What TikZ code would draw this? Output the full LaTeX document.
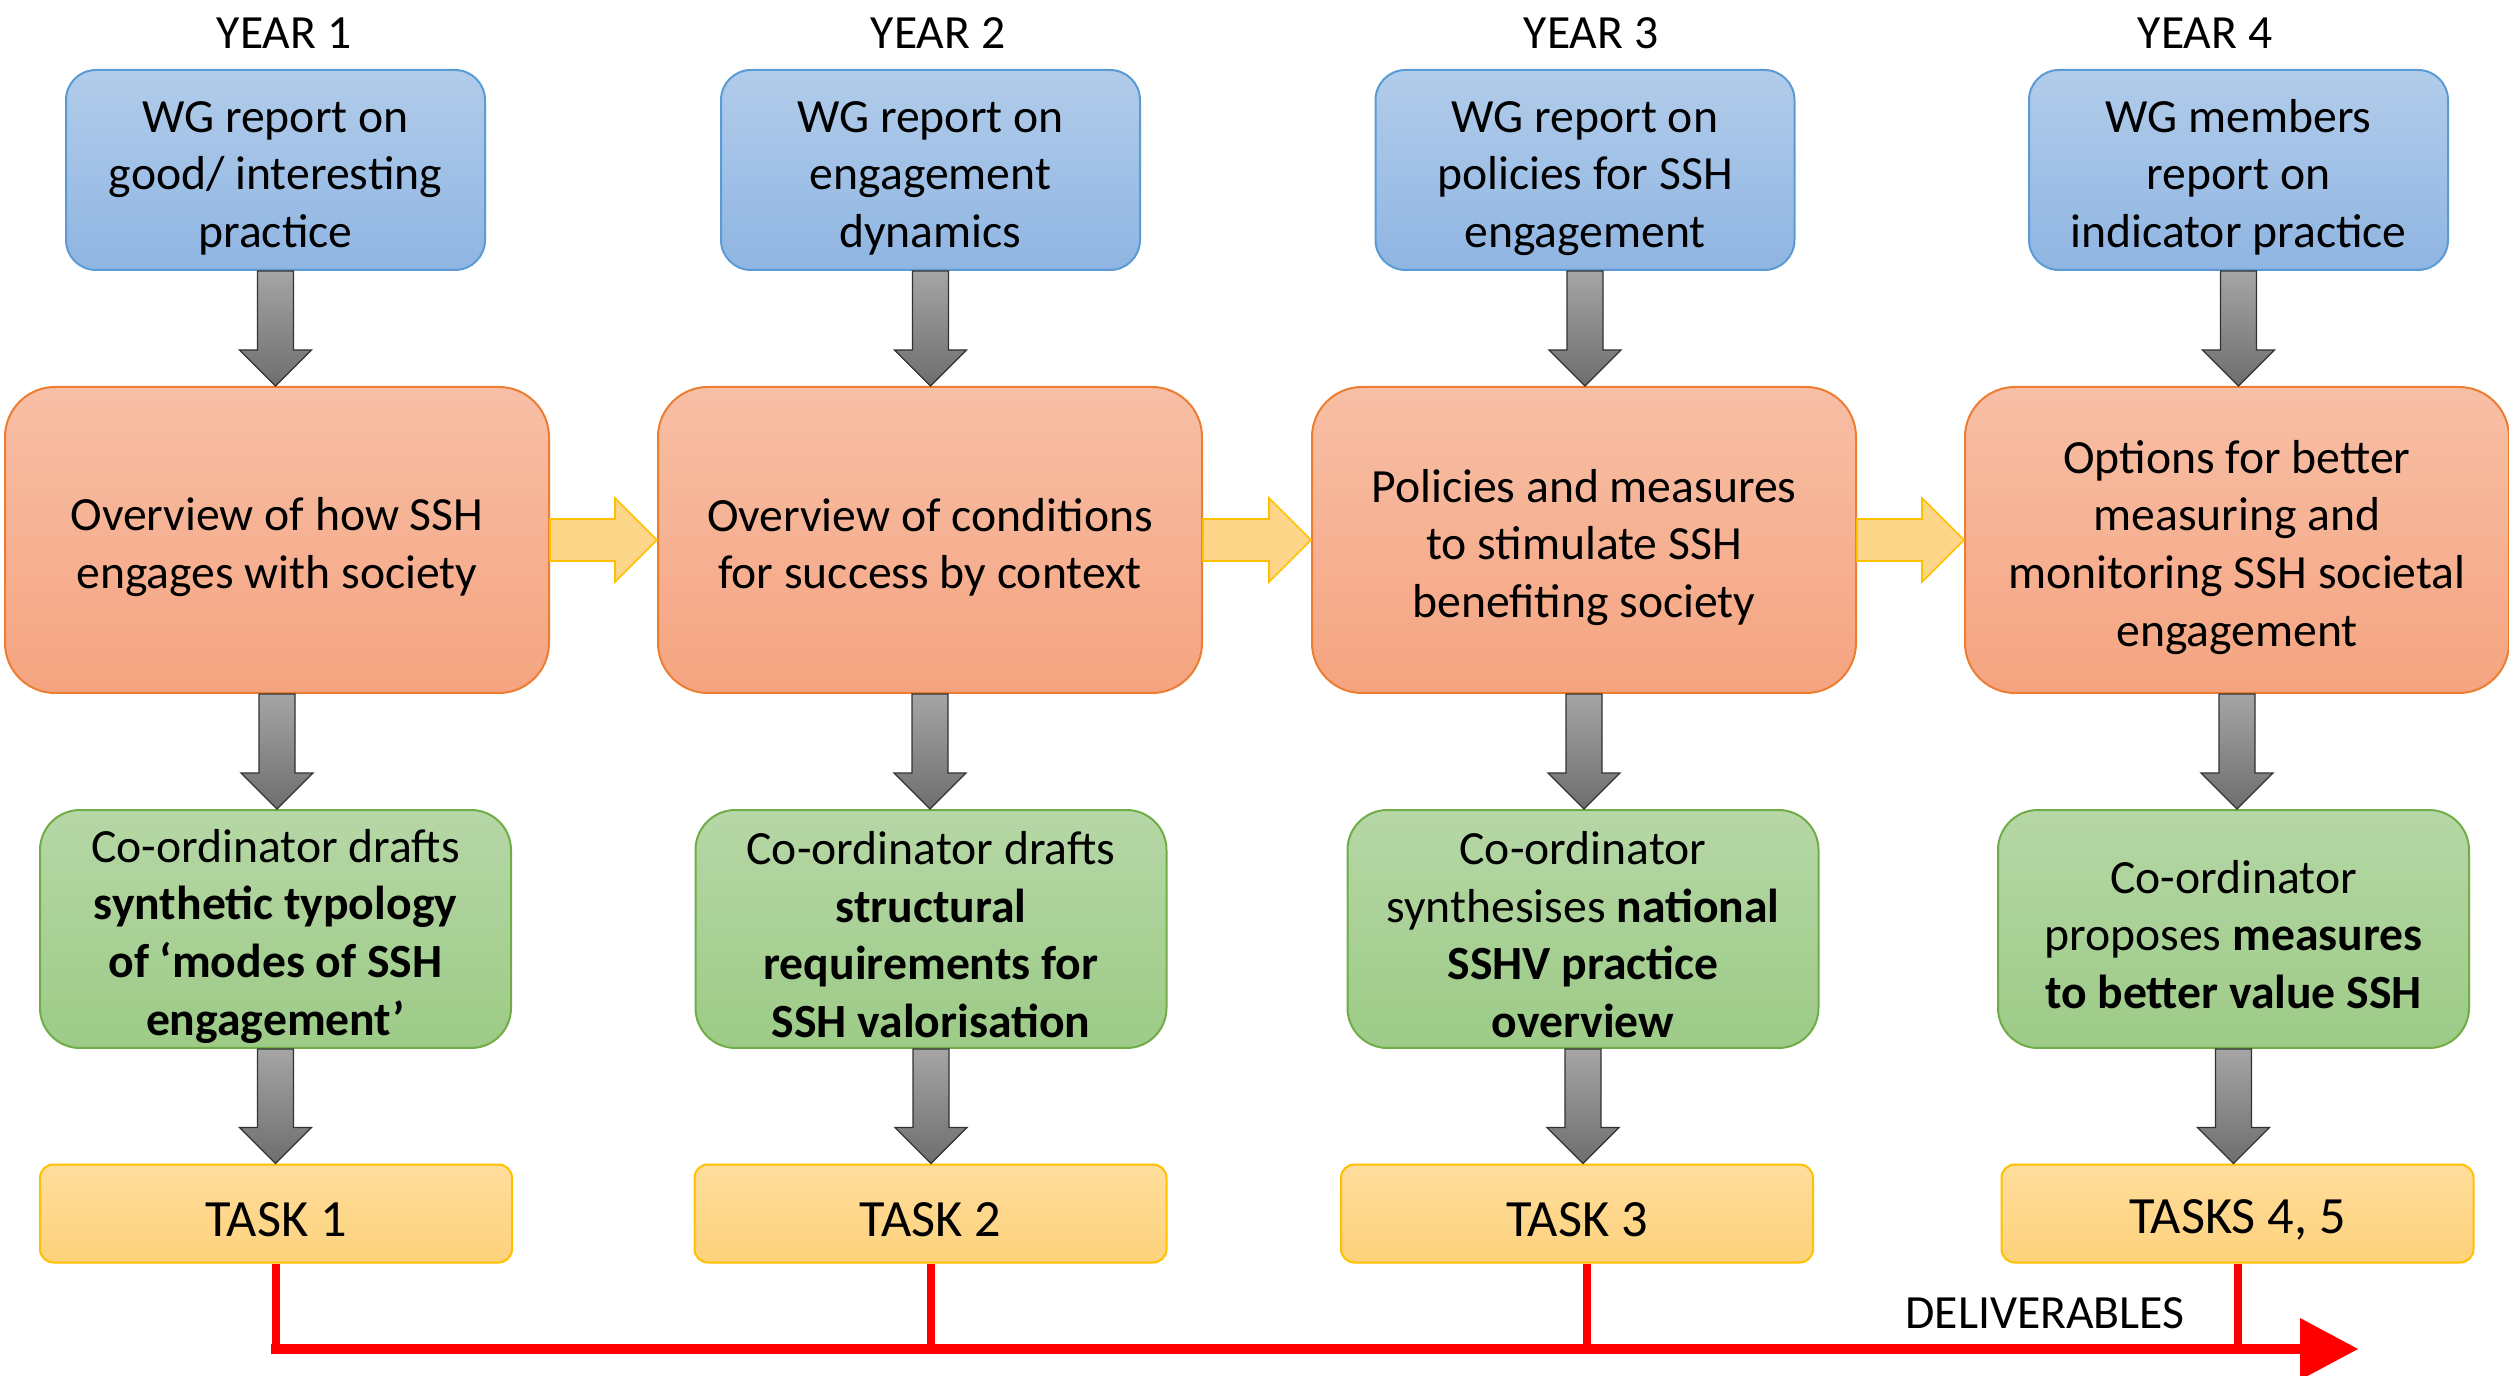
\documentclass[tikz,border=0pt]{standalone}
\usepackage{fontspec}
\setmainfont{Carlito}
\usetikzlibrary{calc}
\definecolor{bluetop}{RGB}{178,204,234}
\definecolor{bluebot}{RGB}{143,181,226}
\definecolor{blueborder}{RGB}{91,155,213}
\definecolor{orangetop}{RGB}{247,191,166}
\definecolor{orangebot}{RGB}{245,164,128}
\definecolor{orangeborder}{RGB}{237,125,49}
\definecolor{greentop}{RGB}{182,215,166}
\definecolor{greenbot}{RGB}{157,203,135}
\definecolor{greenborder}{RGB}{112,173,71}
\definecolor{tasktop}{RGB}{255,221,156}
\definecolor{taskbot}{RGB}{254,210,124}
\definecolor{taskborder}{RGB}{255,192,0}
\definecolor{graytop}{RGB}{165,165,165}
\definecolor{graybot}{RGB}{110,110,110}
\definecolor{grayborder}{RGB}{50,50,50}
\definecolor{yelfill}{RGB}{254,214,138}
\definecolor{yelborder}{RGB}{255,192,0}
\definecolor{redline}{RGB}{255,0,0}
\newcommand\grayarr[2]{%
 \path[grayarrstyle] let \p1=(#1.south), \p2=(#2.north) in
 (\x1-5.4pt,\y1) -- (\x1-5.4pt,\y2+10.8pt) -- (\x1-10.8pt,\y2+10.8pt) -- (\x1,\y2)
 -- (\x1+10.8pt,\y2+10.8pt) -- (\x1+5.4pt,\y2+10.8pt) -- (\x1+5.4pt,\y1) -- cycle;}
\newcommand\yelarr[2]{%
 \path[yelarrstyle] let \p1=(#1.east), \p2=(#2.west) in
 (\x1,\y1+6.3pt) -- (\x2-12.6pt,\y1+6.3pt) -- (\x2-12.6pt,\y1+12.6pt) -- (\x2,\y1)
 -- (\x2-12.6pt,\y1-12.6pt) -- (\x2-12.6pt,\y1-6.3pt) -- (\x1,\y1-6.3pt) -- cycle;}
\newcommand\tstr{\rule{0pt}{14.3pt}}
\newcommand\gstr{\rule{0pt}{13.3pt}}
\newcommand\taskstr{\rule{0pt}{14.2pt}}
\begin{document}
\begin{tikzpicture}[x=0.3pt,y=-0.3pt,
 txt/.style={font=\fontsize{14.3}{17.3}\selectfont},
 box/.style={txt, align=center, inner sep=0pt, line width=0.6pt},
 bluebox/.style={box, draw=blueborder, top color=bluetop, bottom color=bluebot,
   minimum width=125.7pt, minimum height=60pt, rounded corners=9pt},
 orangebox/.style={box, draw=orangeborder, top color=orangetop, bottom color=orangebot,
   minimum width=163.2pt, minimum height=91.8pt, rounded corners=15pt},
 greenbox/.style={box, draw=greenborder, top color=greentop, bottom color=greenbot,
   minimum width=141.3pt, minimum height=71.4pt, rounded corners=12pt},
 taskbox/.style={box, draw=taskborder, top color=tasktop, bottom color=taskbot,
   minimum width=141.6pt, minimum height=29.4pt, rounded corners=4pt,
   font=\fontsize{15.7}{18.5}\selectfont},
 grayarrstyle/.style={draw=grayborder, line width=0.4pt, top color=graytop, bottom color=graybot},
 yelarrstyle/.style={draw=yelborder, line width=0.5pt, fill=yelfill},
 redh/.style={draw=redline, line width=3.2pt},
 redv/.style={draw=redline, line width=2.4pt},
]
\useasboundingbox (0,0) rectangle (2509,1376);
% year labels
\node[txt] (y1) at (284,33) {YEAR 1};
\node[txt] (y2) at (938,33) {YEAR 2};
\node[txt] (y3) at (1591,33) {YEAR 3};
\node[txt] (y4) at (2205,33) {YEAR 4};
% blue
\node[bluebox] (b1) at (275.5,170) {\tstr WG report on\\good/ interesting\\practice};
\node[bluebox] (b2) at (930.5,170) {\tstr WG report on\\engagement\\dynamics};
\node[bluebox] (b3) at (1585,170) {\tstr WG report on\\policies for SSH\\engagement};
\node[bluebox] (b4) at (2238.5,170) {\tstr WG members\\report on\\indicator practice};
% orange
\node[orangebox] (o1) at (277,540) {\tstr Overview of how SSH\\engages with society};
\node[orangebox] (o2) at (930,540) {\tstr Overview of conditions\\for success by context};
\node[orangebox] (o3) at (1584,540) {\tstr Policies and measures\\to stimulate SSH\\benefiting society};
\node[orangebox] (o4) at (2237,540) {\tstr Options for better\\measuring and\\monitoring SSH societal\\engagement};
% green
\node[greenbox] (g1) at (275.5,929) {\tstr Co-ordinator drafts\\\textbf{synthetic typology}\\\textbf{of ‘modes of SSH}\\\textbf{engagement’}};
\node[greenbox] (g2) at (931,929) {\gstr Co-ordinator drafts\\\textbf{structural}\\\textbf{requirements for}\\\textbf{SSH valorisation}};
\node[greenbox] (g3) at (1583,929) {\gstr Co-ordinator\\synthesises \textbf{national}\\\textbf{SSHV practice}\\\textbf{overview}};
\node[greenbox] (g4) at (2233.5,929) {\gstr Co-ordinator\\proposes \textbf{measures}\\\textbf{to better value SSH}};
% tasks
\node[taskbox] (t1) at (276,1213.5) {\taskstr TASK 1};
\node[taskbox] (t2) at (930.5,1213.5) {\taskstr TASK 2};
\node[taskbox] (t3) at (1577,1213.5) {\taskstr TASK 3};
\node[taskbox] (t4) at (2237.5,1213.5) {\taskstr TASKS 4, 5};
% gray arrows
\grayarr{b1}{o1}\grayarr{b2}{o2}\grayarr{b3}{o3}\grayarr{b4}{o4}
\grayarr{o1}{g1}\grayarr{o2}{g2}\grayarr{o3}{g3}\grayarr{o4}{g4}
\grayarr{g1}{t1}\grayarr{g2}{t2}\grayarr{g3}{t3}\grayarr{g4}{t4}
% yellow arrows
\yelarr{o1}{o2}\yelarr{o2}{o3}\yelarr{o3}{o4}
% red deliverables line
\coordinate (redstart) at (271,1349);
\coordinate (redtip) at (2358,1349);
\path[redh] (redstart) -- (2302,1349);
\fill[redline] (2300,1318) -- (redtip) -- (2300,1380) -- cycle;
\path[redv] (t1.south) -- ($(t1.south |- redstart)+(0,5)$);
\path[redv] (t2.south) -- (t2.south |- redstart);
\path[redv] ($(t3.south)+(10,0)$) -- ($(t3.south |- redstart)+(10,0)$);
\path[redv] (t4.south) -- (t4.south |- redstart);
\node[txt] (deliv) at (2045,1313) {DELIVERABLES};
\end{tikzpicture}
\end{document}
